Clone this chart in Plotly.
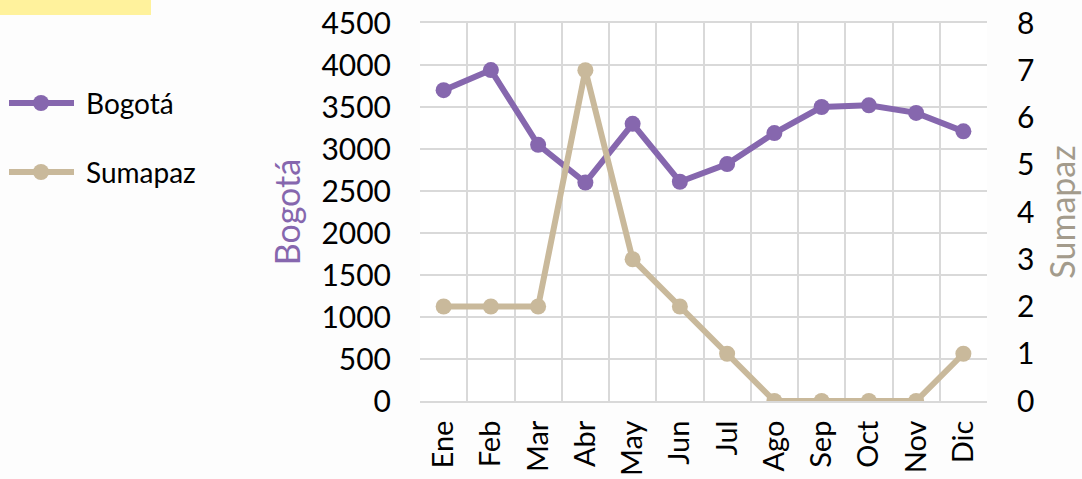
import plotly.graph_objects as go

months = ["Ene", "Feb", "Mar", "Abr", "May", "Jun", "Jul", "Ago", "Sep", "Oct", "Nov", "Dic"]
bogota = [3700, 3940, 3050, 2600, 3300, 2610, 2820, 3190, 3500, 3520, 3430, 3210]
sumapaz = [2, 2, 2, 7, 3, 2, 1, 0, 0, 0, 0, 1]

PURPLE = "#8667AE"
TAN = "#C9B99B"
TAN_TITLE = "#A39B8C"
FONT = "Lato"

# plot area in pixels
L, R, T, B = 420, 987, 23, 401
W, H = 1082, 479
def px(x):
    return (x - L) / (R - L)
def py(y):
    return (B - y) / (B - T)

fig = go.Figure()
fig.add_trace(go.Scatter(x=months, y=bogota, name="Bogotá", mode="lines+markers",
                         line=dict(color=PURPLE, width=6), marker=dict(size=16, color=PURPLE),
                         showlegend=False))
fig.add_trace(go.Scatter(x=months, y=sumapaz, name="Sumapaz", mode="lines+markers", yaxis="y2",
                         line=dict(color=TAN, width=6), marker=dict(size=16, color=TAN),
                         showlegend=False))

shapes = []
annotations = []
# yellow box top-left
shapes.append(dict(type="rect", xref="paper", yref="paper", x0=px(-2), x1=px(151), y0=py(15), y1=py(-2),
                   fillcolor="#FFF29C", line=dict(width=0), layer="below"))
# manual legend
for name, color, yy in [("Bogotá", PURPLE, 103), ("Sumapaz", TAN, 172)]:
    shapes.append(dict(type="line", xref="paper", yref="paper", x0=px(9), x1=px(74), y0=py(yy), y1=py(yy),
                       line=dict(color=color, width=6)))
    shapes.append(dict(type="circle", xref="paper", yref="paper", x0=px(33), x1=px(49), y0=py(yy + 8), y1=py(yy - 8),
                       fillcolor=color, line=dict(width=0)))
    annotations.append(dict(text=name, xref="paper", yref="paper", x=px(84), y=py(yy), xanchor="left",
                            yanchor="middle", showarrow=False, font=dict(family=FONT, size=28, color="#000000")))

fig.update_layout(
    width=W, height=H,
    margin=dict(l=L, r=W - R, t=T, b=H - B, pad=0),
    paper_bgcolor="#FDFDFD", plot_bgcolor="#FFFFFF",
    font=dict(family=FONT, size=30, color="#000000"),
    shapes=shapes, annotations=annotations,
    xaxis=dict(type="category", range=[-0.5, 11.5], tickangle=-90, tickson="boundaries", showgrid=True,
               automargin=False,
               gridcolor="#D9D9D9", gridwidth=2, showline=True, linecolor="#D9D9D9", linewidth=2, mirror=True,
               ticks="", ticklabelstandoff=6, tickfont=dict(family=FONT, size=29)),
    yaxis=dict(range=[0, 4500], dtick=500, showgrid=True, gridcolor="#D9D9D9", gridwidth=2, zeroline=False,
               automargin=False, ticks="", ticklabelstandoff=28, tickfont=dict(family=FONT, size=30),
               title=dict(text="Bogotá", font=dict(family=FONT, size=34, color=PURPLE), standoff=10)),
    yaxis2=dict(range=[0, 8], dtick=1, overlaying="y", side="right", showgrid=False, zeroline=False,
                automargin=False, ticks="", ticklabelstandoff=29, tickfont=dict(family=FONT, size=30),
                title=dict(text="Sumapaz", font=dict(family=FONT, size=34, color=TAN_TITLE), standoff=24)),
)

fig.write_html("out.html", config={"displayModeBar": False},
               post_script="document.body.style.margin='0';document.body.style.background='#FDFDFD';")
